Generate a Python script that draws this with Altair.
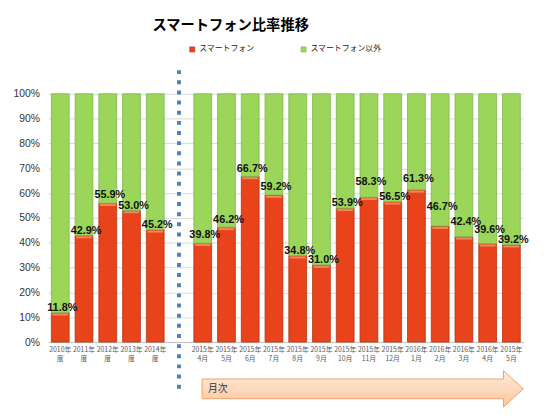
import json
import altair as alt
import pandas as pd

# ---- data ----
label_top = ["2010年", "2011年", "2012年", "2013年", "2014年", "",
             "2015年", "2015年", "2015年", "2015年", "2015年", "2015年", "2015年",
             "2015年", "2015年", "2016年", "2016年", "2016年", "2016年", "2015年"]
label_bottom = ["度", "度", "度", "度", "度", "",
                "4月", "5月", "6月", "7月", "8月", "9月", "10月",
                "11月", "12月", "1月", "2月", "3月", "4月", "5月"]
smart_share = [11.8, 42.9, 55.9, 53.0, 45.2, None,
               39.8, 46.2, 66.7, 59.2, 34.8, 31.0, 53.9,
               58.3, 56.5, 61.3, 46.7, 42.4, 39.6, 39.2]
series = ["スマートフォン", "スマートフォン以外"]

# ---- styling ----
colors = ["#E8431A", "#9BD65A"]
strokes = ["#B5340F", "#7DB54A"]
PLOT_H = 252
# extra upward nudge (px) of individual data labels, as placed in the original to avoid collisions
label_lift = {2: 3, 6: 3, 7: 2, 8: 3, 9: 3, 13: 10, 15: 6, 16: 14, 17: 10, 18: 9}

slots = list(range(len(label_top)))
labels = [t + "|" + b for t, b in zip(label_top, label_bottom)]

rows = []
txt_rows = []
for i, v in enumerate(smart_share):
    if v is None:
        continue
    rows.append({"idx": i, "series": series[0], "y0": 0.0, "y1": v})
    rows.append({"idx": i, "series": series[1], "y0": v, "y1": 100.0})
    txt_rows.append({"idx": i, "v": v, "lab": f"{v:.1f}%",
                     "ty": v + label_lift.get(i, 0) * 100.0 / PLOT_H})
df = pd.DataFrame(rows)
dft = pd.DataFrame(txt_rows)

FONT = "Liberation Sans"
JP = "Noto Sans CJK JP"

xscale = alt.Scale(domain=slots, paddingInner=0.25, paddingOuter=0.125)
yscale = alt.Scale(domain=[0, 100], nice=False)

x_axis = alt.Axis(labelExpr=f"split({json.dumps(labels, ensure_ascii=False)}[datum.value], '|')",
                  labelAngle=0, labelFontSize=7, labelColor="#595959", labelFont=JP,
                  labelLineHeight=9, ticks=False, domainColor="#BFBFBF", labelPadding=4)
y_axis = alt.Axis(values=list(range(0, 101, 10)), labelExpr="datum.value + '%'",
                  labelFontSize=10.5, labelColor="#333333", labelFont=FONT,
                  labelOverlap=False,
                  gridColor="#D9D9D9", domain=False, ticks=False, labelPadding=9)


def X():
    return alt.X("idx:O", scale=xscale, title=None, axis=x_axis)


bars = alt.Chart(df).mark_bar(strokeWidth=0.8).encode(
    x=X(),
    y=alt.Y("y0:Q", scale=yscale, title=None, axis=y_axis),
    y2="y1:Q",
    color=alt.Color("series:N", scale=alt.Scale(domain=series, range=colors), title=None,
                    legend=alt.Legend(orient="none", legendX=142, legendY=-49, direction="horizontal",
                                      symbolType="square", symbolSize=28, labelFontSize=8,
                                      labelFont=JP, labelColor="#222222", columnPadding=46,
                                      symbolStrokeWidth=0.5, labelOffset=3)),
    stroke=alt.Stroke("series:N", scale=alt.Scale(domain=series, range=strokes), legend=None),
    order=alt.Order("series:N"),
)

highlight = alt.Chart(dft).mark_tick(color="#F7A27F", thickness=2, size=16, yOffset=1.8).encode(
    x=X(),
    y=alt.Y("v:Q", scale=yscale, title=None, axis=y_axis),
)

texts = alt.Chart(dft).mark_text(fontSize=11, fontWeight="bold", font=FONT, baseline="alphabetic",
                                 dy=-2, dx=2, color="#111111").encode(
    x=X(),
    y=alt.Y("ty:Q", scale=yscale, title=None, axis=y_axis),
    text="lab:N",
)

divider = alt.Chart(pd.DataFrame({"idx": [5]})).mark_rule(
    color="#4F81BD", strokeWidth=4, strokeDash=[4, 6.3]).encode(
    x=X(),
    y=alt.value(-24), y2=alt.value(303),
)

arrow_path = "M-1,-0.0613 L0.877,-0.0613 L0.877,-0.1135 L1,0 L0.877,0.1135 L0.877,0.0613 L-1,0.0613 Z"
arrow = alt.Chart(pd.DataFrame({"a": [1]})).mark_point(
    shape=arrow_path, size=326 * 326, filled=True, opacity=1,
    fill=alt.Gradient(gradient="linear", x1=0, y1=0, x2=0, y2=1,
                      stops=[alt.GradientStop(color="#FDEBDD", offset=0),
                             alt.GradientStop(color="#FBC79C", offset=1)]),
    stroke="#F2A168", strokeWidth=1,
).encode(x=alt.value(319), y=alt.value(299.5))

arrow_text = alt.Chart(pd.DataFrame({"t": ["月次"]})).mark_text(
    font=JP, fontSize=10, color="#333333", align="left", baseline="middle").encode(
    text="t:N", x=alt.value(162), y=alt.value(300))

title = alt.Chart(pd.DataFrame({"t": ["スマートフォン比率推移"]})).mark_text(
    font=JP, fontSize=14.5, fontWeight="bold", color="#000000", align="center", baseline="middle").encode(
    text="t:N", x=alt.value(185), y=alt.value(-69))

chart = alt.layer(bars, highlight, texts, divider, arrow, arrow_text, title).properties(
    width=482, height=PLOT_H,
    autosize=alt.AutoSizeParams(type="none"),
    padding={"left": 41, "top": 84, "right": 19, "bottom": 74},
).configure_view(stroke=None)

chart.save("out.html", embed_options={"renderer": "svg", "actions": False})
